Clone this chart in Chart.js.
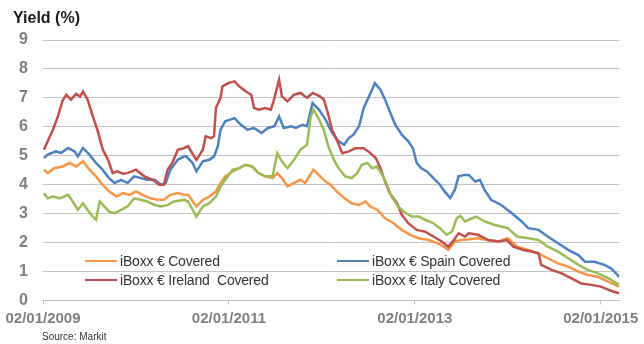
<!DOCTYPE html>
<html>
<head>
<meta charset="utf-8">
<script src="https://cdn.jsdelivr.net/npm/chart.js@4.4.1/dist/chart.umd.min.js"></script>
<style>
  html, body { margin: 0; padding: 0; background: #ffffff; }
  #wrap { position: relative; width: 644px; height: 344px; overflow: hidden; font-family: "Liberation Sans", Arial, sans-serif; }
  canvas { position: absolute; left: 0; top: 0; }
  #title { position: absolute; left: 13px; top: 9px; font-size: 16px; font-weight: bold; color: #1a1a1a; }
  #source { position: absolute; left: 42px; top: 331px; font-size: 10px; color: #333; }
  .leg { position: absolute; display: flex; align-items: center; font-size: 14px; color: #333; white-space: pre; letter-spacing: -0.2px; }
  .leg .ln { width: 32px; height: 2.5px; margin-right: 3px; }
</style>
</head>
<body>
<div id="wrap">
  <canvas id="c" width="644" height="344"></canvas>
  <div id="title">Yield (%)</div>
  <div id="source">Source: Markit</div>
  <div id="legend"></div>
</div>
<script>
// x values: years elapsed since 02/01/2009
const seriesLabels = ["iBoxx € Covered", "iBoxx € Spain Covered", "iBoxx € Ireland  Covered", "iBoxx € Italy Covered"];
const seriesColors = ["#f79646", "#4f81bd", "#c0504d", "#9bbb59"];
const xTickYears = [0, 2, 4, 6];
const yTicks = [0, 1, 2, 3, 4, 5, 6, 7, 8, 9];

const coveredX = [0.01,0.05,0.12,0.21,0.286,0.357,0.43,0.50,0.57,0.64,0.71,0.79,0.86,0.93,1.0,1.07,1.16,1.23,1.30,1.37,1.45,1.52,1.56,1.65,1.72,1.79,1.86,1.91,1.96,2.04,2.11,2.18,2.25,2.32,2.39,2.47,2.52,2.57,2.63,2.70,2.77,2.82,2.91,2.98,3.04,3.09,3.16,3.24,3.32,3.40,3.47,3.52,3.60,3.68,3.77,3.86,3.95,4.04,4.15,4.24,4.31,4.36,4.43,4.50,4.58,4.68,4.79,4.90,5.0,5.10,5.22,5.33,5.43,5.54,5.65,5.76,5.86,5.97,6.08,6.20];
const coveredY = [4.52,4.40,4.57,4.63,4.75,4.63,4.81,4.52,4.29,4.0,3.77,3.59,3.71,3.65,3.77,3.65,3.53,3.48,3.48,3.65,3.71,3.65,3.65,3.25,3.48,3.59,3.77,4.06,4.29,4.46,4.57,4.69,4.63,4.40,4.29,4.23,4.40,4.23,3.94,4.06,4.17,4.06,4.52,4.30,4.11,4.0,3.77,3.54,3.36,3.30,3.42,3.25,3.13,2.84,2.67,2.44,2.27,2.15,2.09,1.98,1.86,1.75,2.04,2.09,2.12,2.15,2.08,2.04,2.15,1.86,1.75,1.63,1.46,1.28,1.17,1.0,0.88,0.82,0.65,0.48];

const spainX = [0.01,0.05,0.14,0.196,0.27,0.34,0.375,0.43,0.50,0.57,0.64,0.71,0.77,0.84,0.91,0.98,1.05,1.12,1.20,1.27,1.32,1.37,1.45,1.52,1.54,1.61,1.65,1.72,1.79,1.84,1.88,1.91,1.96,2.06,2.13,2.20,2.27,2.35,2.42,2.49,2.54,2.59,2.67,2.72,2.79,2.84,2.90,2.97,3.04,3.11,3.18,3.24,3.29,3.34,3.40,3.45,3.50,3.54,3.57,3.63,3.68,3.73,3.79,3.86,3.93,3.98,4.02,4.07,4.13,4.20,4.27,4.32,4.38,4.43,4.47,4.54,4.58,4.65,4.70,4.75,4.82,4.93,5.04,5.15,5.22,5.33,5.43,5.54,5.65,5.76,5.83,5.93,6.04,6.11,6.20];
const spainY = [4.92,5.04,5.15,5.10,5.27,5.15,4.98,5.27,5.04,4.75,4.52,4.23,4.06,4.17,4.06,4.29,4.23,4.17,4.17,4.0,4.06,4.52,4.86,4.98,4.98,4.75,4.46,4.81,4.86,4.98,5.32,5.90,6.19,6.30,6.07,5.90,5.96,5.79,5.96,6.02,6.36,5.96,6.02,5.96,6.07,6.02,6.82,6.59,6.25,5.79,5.50,5.38,5.61,5.73,6.02,6.65,7.0,7.28,7.51,7.28,6.94,6.53,6.07,5.73,5.50,5.26,4.75,4.57,4.46,4.23,4.0,3.77,3.54,3.82,4.29,4.34,4.34,4.11,4.17,3.82,3.48,3.30,3.02,2.73,2.50,2.44,2.21,1.98,1.75,1.57,1.34,1.34,1.23,1.11,0.82];

const irelandX = [0.01,0.05,0.107,0.16,0.21,0.25,0.30,0.357,0.40,0.43,0.48,0.536,0.59,0.643,0.70,0.75,0.80,0.86,0.91,1.0,1.09,1.18,1.25,1.30,1.34,1.39,1.45,1.52,1.56,1.65,1.72,1.75,1.81,1.84,1.86,1.91,1.93,2.0,2.06,2.11,2.18,2.24,2.27,2.32,2.39,2.45,2.48,2.54,2.57,2.63,2.70,2.77,2.84,2.90,2.98,3.02,3.06,3.11,3.16,3.22,3.29,3.36,3.45,3.50,3.58,3.63,3.68,3.73,3.81,3.86,3.93,4.02,4.11,4.20,4.29,4.36,4.41,4.47,4.54,4.58,4.68,4.79,4.90,4.99,5.06,5.16,5.25,5.33,5.36,5.47,5.58,5.68,5.79,5.90,6.00,6.13,6.20];
const irelandY = [5.21,5.50,5.90,6.36,6.90,7.11,6.94,7.14,7.05,7.22,6.94,6.36,5.84,5.21,4.86,4.40,4.46,4.38,4.40,4.52,4.29,4.17,4.0,4.0,4.52,4.75,5.21,5.27,5.33,4.86,5.21,5.67,5.61,5.67,6.65,7.0,7.40,7.52,7.57,7.40,7.23,7.11,6.65,6.59,6.65,6.59,6.88,7.63,7.05,6.88,7.11,7.17,7.0,7.17,7.05,6.95,6.53,5.90,5.55,5.09,5.15,5.26,5.26,5.15,4.92,4.57,4.11,3.71,3.36,2.96,2.67,2.44,2.38,2.21,2.04,1.86,2.04,2.32,2.21,2.32,2.27,2.09,2.04,2.09,1.86,1.75,1.69,1.63,1.23,1.06,0.94,0.77,0.59,0.54,0.48,0.31,0.25];

const italyX = [0.01,0.05,0.107,0.18,0.27,0.32,0.375,0.43,0.48,0.536,0.57,0.61,0.66,0.71,0.77,0.84,0.91,0.98,1.05,1.12,1.20,1.27,1.34,1.41,1.52,1.56,1.65,1.72,1.79,1.86,1.91,1.96,2.04,2.11,2.18,2.25,2.32,2.39,2.47,2.52,2.57,2.63,2.70,2.77,2.84,2.88,2.91,2.97,3.02,3.07,3.13,3.18,3.25,3.32,3.38,3.43,3.49,3.54,3.59,3.65,3.70,3.75,3.82,3.90,3.97,4.04,4.11,4.20,4.27,4.34,4.40,4.45,4.49,4.54,4.58,4.66,4.75,4.86,5.0,5.10,5.22,5.33,5.43,5.54,5.65,5.76,5.86,5.97,6.08,6.20];
const italyY = [3.71,3.53,3.59,3.53,3.65,3.42,3.13,3.36,3.13,2.90,2.79,3.42,3.25,3.07,3.02,3.13,3.25,3.53,3.48,3.42,3.30,3.25,3.30,3.42,3.48,3.42,2.90,3.25,3.36,3.59,3.94,4.17,4.52,4.57,4.69,4.63,4.40,4.29,4.29,5.09,4.81,4.57,4.86,5.21,5.38,6.36,6.59,6.25,5.90,5.32,4.86,4.57,4.29,4.23,4.40,4.69,4.75,4.57,4.63,4.34,4.0,3.59,3.25,3.02,2.90,2.90,2.79,2.67,2.50,2.27,2.38,2.84,2.93,2.73,2.79,2.90,2.73,2.61,2.50,2.21,2.15,2.09,1.86,1.69,1.46,1.23,1.06,0.94,0.77,0.54];

function pts(xs, ys) { return xs.map((x, i) => ({ x: x, y: ys[i] })); }

const seriesData = [pts(coveredX, coveredY), pts(spainX, spainY), pts(irelandX, irelandY), pts(italyX, italyY)];
const drawOrder = [3, 2, 1, 0];

const datasets = seriesLabels.map((lab, i) => ({
  label: lab,
  data: seriesData[i],
  borderColor: seriesColors[i],
  backgroundColor: seriesColors[i],
  borderWidth: 2.5,
  pointRadius: 0,
  tension: 0,
  order: drawOrder[i]
}));

new Chart(document.getElementById('c'), {
  type: 'line',
  data: { datasets: datasets },
  options: {
    responsive: false,
    animation: false,
    layout: { padding: { top: 40, right: 22, left: 0, bottom: 0 } },
    plugins: { legend: { display: false }, tooltip: { enabled: false } },
    scales: {
      x: {
        type: 'linear',
        min: 0,
        max: 6.2,
        afterFit: (s) => { s.height = 43.5; },
        afterBuildTicks: (s) => { s.ticks = xTickYears.map(v => ({ value: v })); },
        ticks: {
          autoSkip: false,
          maxRotation: 0,
          padding: 5,
          color: '#7f7f7f',
          font: { family: '"Liberation Sans", Arial, sans-serif', size: 15, weight: 'bold' },
          callback: (v) => '02/01/' + (2009 + Math.round(v))
        },
        grid: { display: true, drawOnChartArea: false, drawTicks: true, tickLength: 4, color: '#bfbfbf' },
        border: { display: true, color: '#bfbfbf' }
      },
      y: {
        min: 0,
        max: 9,
        afterFit: (s) => { s.width = 43; },
        afterBuildTicks: (s) => { s.ticks = yTicks.map(v => ({ value: v })); },
        ticks: {
          padding: 15,
          color: '#7f7f7f',
          font: { family: '"Liberation Sans", Arial, sans-serif', size: 16, weight: 'bold' }
        },
        grid: { color: '#c4c4c4', drawTicks: false, lineWidth: 1 },
        border: { display: false }
      }
    }
  }
});

// HTML legend, two columns inside the plot
const legendPos = [[85, 253], [337, 253], [85, 272], [337, 272]];
const legEl = document.getElementById('legend');
seriesLabels.forEach((lab, i) => {
  const d = document.createElement('div');
  d.className = 'leg';
  d.style.left = legendPos[i][0] + 'px';
  d.style.top = legendPos[i][1] + 'px';
  const ln = document.createElement('span');
  ln.className = 'ln';
  ln.style.background = seriesColors[i];
  const t = document.createElement('span');
  t.textContent = lab;
  d.appendChild(ln);
  d.appendChild(t);
  legEl.appendChild(d);
});
</script>
</body>
</html>
